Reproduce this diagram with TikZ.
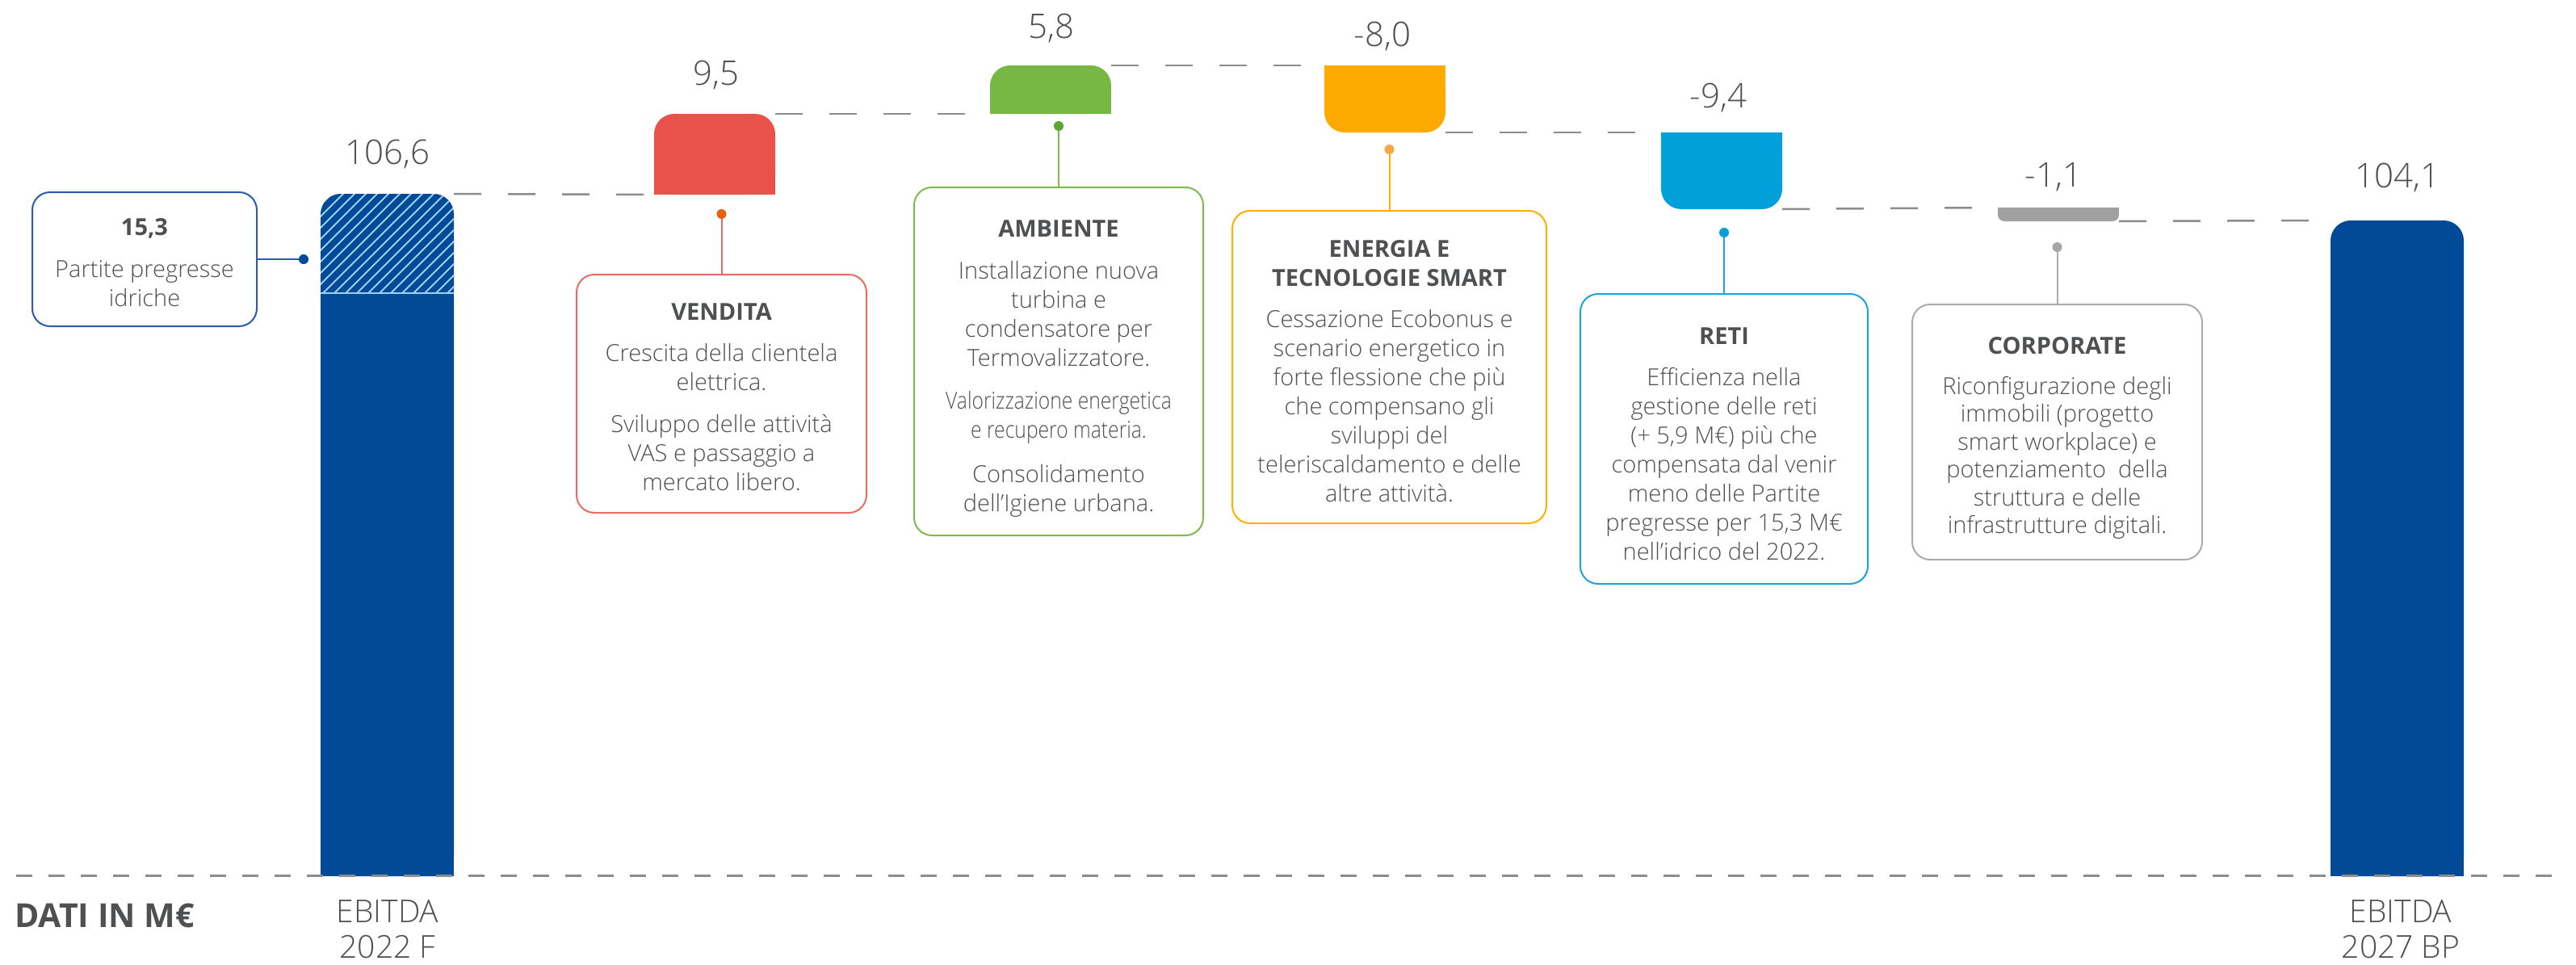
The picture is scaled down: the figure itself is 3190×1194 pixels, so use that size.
\documentclass[tikz,border=0pt]{standalone}
\usepackage{fontspec}
\setmainfont{Open Sans Light}[BoldFont={Open Sans Bold}]
\newfontfamily\condfont{Open Sans Light}[FakeStretch=0.85]
\definecolor{cBlue}{HTML}{004A98}
\definecolor{cRed}{HTML}{E9524A}
\definecolor{cGreen}{HTML}{76B843}
\definecolor{cOrange}{HTML}{FFAA00}
\definecolor{cCyan}{HTML}{00A0DA}
\definecolor{cGray}{HTML}{A0A0A0}
\definecolor{cText}{HTML}{4F5052}
\definecolor{cDash}{HTML}{8C8C8C}
\definecolor{cHatch}{HTML}{9DCFF0}
\definecolor{eRed}{HTML}{EC6A62}
\definecolor{eGreen}{HTML}{7DBB4F}
\definecolor{eOrange}{HTML}{FFB000}
\definecolor{eCyan}{HTML}{1CA3DC}
\definecolor{eGray}{HTML}{ABABAB}
\definecolor{eBlue}{HTML}{2A5CA8}
\definecolor{dRed}{HTML}{E8600A}
\definecolor{dGreen}{HTML}{5AA531}
\definecolor{dOrange}{HTML}{F5A742}
\definecolor{dCyan}{HTML}{0A9ED8}
\definecolor{dGray}{HTML}{A5A5A5}
\newcommand\boxtitle[1]{{\fontsize{29pt}{36pt}\selectfont\bfseries #1}}
\tikzset{
 wbar/.style={inner sep=0pt, outer sep=0pt, draw=none},
 ibox/.style={draw=#1, line width=2pt, rounded corners=22pt, inner sep=0pt, outer sep=0pt, fill=white},
 dotn/.style={circle, fill=#1, inner sep=0pt, outer sep=0pt, minimum size=12pt},
 link/.style={draw=#1, line width=2pt},
 lvl/.style={draw=cDash, line width=2.5pt, dash pattern=on 34pt off 33pt},
 val/.style={font=\fontsize{42pt}{48pt}\selectfont, text=cText, anchor=base, inner sep=0pt},
 btxt/.style={font=\fontsize{29pt}{36pt}\selectfont, text=cText, align=center, anchor=north, inner sep=0pt},
}
\begin{document}
\begin{tikzpicture}[x=1pt,y=-1pt]
\useasboundingbox (0,0) rectangle (3190,1194);
\fill[white] (0,0) rectangle (3190,1194);

% bars
\node[wbar, fill=cBlue, rounded corners=25pt, minimum width=165pt, minimum height=845pt] (b0) at (479.5,662.5) {};
\fill[cBlue] (397,280) rectangle (562,1085);
\node[wbar, fill=cRed, rounded corners=25pt, minimum width=150pt, minimum height=100pt] (bR) at (885,191) {};
\fill[cRed] (810,175) rectangle (960,241);
\node[wbar, fill=cGreen, rounded corners=25pt, minimum width=150pt, minimum height=60pt] (bG) at (1301,111) {};
\fill[cGreen] (1226,115) rectangle (1376,141);
\node[wbar, fill=cOrange, rounded corners=25pt, minimum width=150pt, minimum height=83pt] (bO) at (1715,122.5) {};
\fill[cOrange] (1640,81) rectangle (1790,130);
\node[wbar, fill=cCyan, rounded corners=25pt, minimum width=150pt, minimum height=95pt] (bC) at (2132,211.5) {};
\fill[cCyan] (2057,164) rectangle (2207,225);
\node[wbar, fill=cGray, rounded corners=8pt, minimum width=150pt, minimum height=17pt] (bY) at (2549,265.5) {};
\fill[cGray] (2474,257) rectangle (2624,264);
\node[wbar, fill=cBlue, rounded corners=25pt, minimum width=165pt, minimum height=812pt] (bF) at (2968.5,679) {};
\fill[cBlue] (2886,310) rectangle (3051,1085);

% hatch on first bar
\begin{scope}
\clip[rounded corners=25pt] (397,240) rectangle (562,500);
\clip (390,230) rectangle (570,363);
\foreach \k in {-12,...,12} \draw[cHatch, line width=1.8pt] ({397+\k*14},366) -- ++(150,-150);
\end{scope}
\draw[cHatch, line width=2.5pt] (397,363) -- (562,363);

% baseline
\draw[cDash, line width=3pt, dash pattern=on 20pt off 20pt] (20,1084) -- (3163,1084);

% level connectors
\draw[lvl] (b0.north east) -- (bR.south west);
\draw[lvl] (bR.north east) -- (bG.south west);
\draw[lvl] (bG.north east) -- (bO.north west);
\draw[lvl] (bO.south east) -- (bC.north west);
\draw[lvl] (bC.south east) -- (bY.north west);
\draw[lvl] (bY.south east) -- (bF.north west);

% values
\node[val] (v0) at (480,203) {106,6};
\node[val] (vR) at (887,105) {9,5};
\node[val] (vG) at (1302,47) {5,8};
\node[val] (vO) at (1712,57) {-8,0};
\node[val] (vC) at (2128,133) {-9,4};
\node[val] (vY) at (2543,231) {-1,1};
\node[val] (vF) at (2969,232) {104,1};

% boxes
\node[ibox=eBlue, minimum width=278pt, minimum height=166pt] (p153) at (179,321) {};
\node[ibox=eRed, minimum width=359pt, minimum height=295pt] (vendita) at (893.5,487.5) {};
\node[ibox=eGreen, minimum width=358pt, minimum height=431pt] (ambiente) at (1311,447.5) {};
\node[ibox=eOrange, minimum width=389pt, minimum height=387pt] (energia) at (1720.5,454.5) {};
\node[ibox=eCyan, minimum width=356pt, minimum height=359pt] (reti) at (2135,543.5) {};
\node[ibox=eGray, minimum width=359pt, minimum height=316pt] (corporate) at (2547.5,535) {};

% dots
\node[dotn=cBlue] (d153) at (376,321) {};
\node[dotn=dRed] (dV) at (893.5,265) {};
\node[dotn=dGreen] (dA) at (1311,156) {};
\node[dotn=dOrange] (dE) at (1720.5,185) {};
\node[dotn=dCyan] (dR) at (2135,288) {};
\node[dotn=dGray] (dC) at (2547.5,306) {};

% links
\draw[link=eBlue] (p153.east) -- (d153.west);
\draw[link=eRed] (dV.south) -- (vendita.north);
\draw[link=eGreen] (dA.south) -- (ambiente.north);
\draw[link=eOrange] (dE.south) -- (energia.north);
\draw[link=eCyan] (dR.south) -- (reti.north);
\draw[link=eGray] (dC.south) -- (corporate.north);

% box texts
\node[btxt] (t153) at (179,270) {\boxtitle{15,3}\\[16pt]Partite pregresse\\idriche};
\node[btxt] (tV) at (893.5,375.7) {\boxtitle{VENDITA}\\[15pt]Crescita della clientela\\elettrica.\\[16pt]Sviluppo delle attività\\VAS e passaggio a\\mercato libero.};
\node[btxt] (tA) at (1311,272.7) {\boxtitle{AMBIENTE}\\[16pt]Installazione nuova\\turbina e\\condensatore per\\Termovalizzatore.\\[17pt]{\condfont Valorizzazione energetica}\\{\condfont e recupero materia.}\\[19pt]Consolidamento\\dell’Igiene urbana.};
\node[btxt] (tE) at (1720.5,297.7) {\boxtitle{ENERGIA E}\\\boxtitle{TECNOLOGIE SMART}\\[15pt]Cessazione Ecobonus e\\scenario energetico in\\forte flessione che più\\che compensano gli\\sviluppi del\\teleriscaldamento e delle\\altre attività.};
\node[btxt] (tR) at (2135,405.7) {\boxtitle{RETI}\\[15pt]Efficienza nella\\gestione delle reti\\(+ 5,9 M€) più che\\compensata dal venir\\meno delle Partite\\pregresse per 15,3 M€\\nell’idrico del 2022.};
\node[btxt, font=\fontsize{29pt}{34.5pt}\selectfont] (tC) at (2547.5,417.7) {\boxtitle{CORPORATE}\\[15pt]Riconfigurazione degli\\immobili (progetto\\smart workplace) e\\potenziamento\ \ della\\struttura e delle\\infrastrutture digitali.};

% bottom labels
\node[anchor=base west, inner sep=0pt, text=cText, font=\fontsize{41pt}{50pt}\selectfont\bfseries] (dati) at (18,1148) {DATI IN M€};
\node[anchor=north, inner sep=0pt, align=center, text=cText, font=\fontsize{39pt}{44pt}\selectfont] (e22) at (480,1114) {EBITDA\\2022 F};
\node[anchor=north, inner sep=0pt, align=center, text=cText, font=\fontsize{39pt}{44pt}\selectfont] (e27) at (2973,1114) {EBITDA\\2027 BP};
\end{tikzpicture}
\end{document}
